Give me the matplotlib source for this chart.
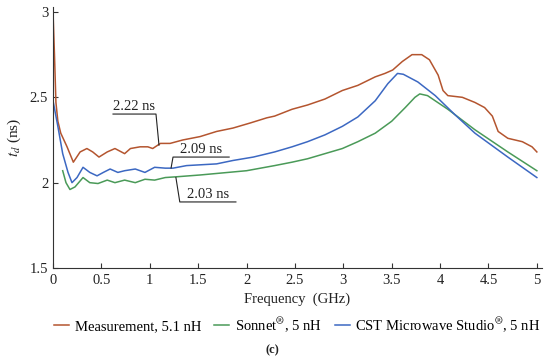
import numpy as np
import matplotlib
matplotlib.use("Agg")
import matplotlib.pyplot as plt

plt.rcParams['font.family'] = ['Liberation Serif', 'DejaVu Serif']
plt.rcParams['mathtext.fontset'] = 'stix'

# Measurement, 5.1 nH
meas_f = [0.00, 0.015, 0.03, 0.05, 0.08, 0.145, 0.21, 0.28, 0.35, 0.41, 0.475,
          0.56, 0.64, 0.74, 0.80, 0.90, 0.98, 1.03, 1.11, 1.21, 1.34, 1.52,
          1.69, 1.86, 2.04, 2.21, 2.29, 2.47, 2.63, 2.81, 2.99, 3.15, 3.33,
          3.43, 3.51, 3.61, 3.71, 3.81, 3.89, 3.98, 4.03, 4.08, 4.23, 4.36,
          4.46, 4.54, 4.60, 4.70, 4.85, 4.95, 5.00]
meas_t = [3.00, 2.75, 2.47, 2.36, 2.29, 2.21, 2.12, 2.18, 2.20, 2.18, 2.15,
          2.18, 2.20, 2.17, 2.20, 2.21, 2.21, 2.20, 2.23, 2.23, 2.25, 2.27,
          2.30, 2.32, 2.35, 2.38, 2.39, 2.43, 2.455, 2.49, 2.54, 2.57, 2.62,
          2.64, 2.66, 2.71, 2.75, 2.75, 2.72, 2.63, 2.54, 2.51, 2.50, 2.47,
          2.44, 2.39, 2.30, 2.26, 2.24, 2.21, 2.18]

# Sonnet, 5 nH
son_f = [0.10, 0.134, 0.175, 0.227, 0.31, 0.38, 0.465, 0.56, 0.64, 0.74,
         0.85, 0.95, 1.05, 1.16, 1.29, 1.52, 2.00, 2.29, 2.47, 2.63, 2.81,
         2.99, 3.15, 3.33, 3.50, 3.64, 3.74, 3.79, 3.87, 4.08, 4.36, 4.70, 5.00]
son_t = [2.07, 2.00, 1.96, 1.975, 2.03, 2.00, 1.995, 2.015, 2.00, 2.015,
         2.00, 2.02, 2.015, 2.03, 2.035, 2.045, 2.07, 2.10, 2.12, 2.14, 2.17,
         2.20, 2.24, 2.29, 2.36, 2.44, 2.50, 2.52, 2.51, 2.43, 2.31, 2.18, 2.07]

# CST Microwave Studio, 5 nH
cst_f = [0.00, 0.05, 0.10, 0.155, 0.196, 0.248, 0.31, 0.38, 0.455, 0.52,
         0.59, 0.67, 0.74, 0.85, 0.95, 1.05, 1.16, 1.24, 1.38, 1.69, 1.86,
         2.07, 2.29, 2.47, 2.63, 2.81, 2.99, 3.15, 3.33, 3.46, 3.56, 3.62,
         3.77, 3.95, 4.15, 4.36, 4.70, 5.00]
cst_t = [2.48, 2.33, 2.17, 2.06, 2.00, 2.03, 2.09, 2.06, 2.04, 2.06,
         2.08, 2.06, 2.07, 2.08, 2.06, 2.09, 2.085, 2.085, 2.10, 2.11, 2.13,
         2.15, 2.18, 2.21, 2.24, 2.28, 2.33, 2.385, 2.48, 2.58, 2.64, 2.635,
         2.59, 2.51, 2.40, 2.29, 2.15, 2.03]

x_ticks = [0, 0.5, 1, 1.5, 2, 2.5, 3, 3.5, 4, 4.5, 5]
x_labels = ['0', '0.5', '1', '1.5', '2', '2.5', '3', '3.5', '4', '4.5', '5']
y_ticks = [1.5, 2, 2.5, 3]
y_labels = ['1.5', '2', '2.5', '3']

# annotations: text, point on curve, underline start, underline end
notes = [("2.22 ns", (1.095, 2.22), (1.064, 2.402), (0.62, 2.402)),
         ("2.09 ns", (1.22, 2.086), (1.24, 2.15), (1.82, 2.15)),
         ("2.03 ns", (1.27, 2.03), (1.31, 1.887), (1.89, 1.887))]

c_meas = '#b4552f'
c_son = '#4a9a58'
c_cst = '#3c68c2'
reg = r'$^{\circledR}$'

fig = plt.figure(figsize=(5.5, 3.61), dpi=100)
ax = fig.add_axes([0.0964, 0.2576, 0.8885, 0.7234])

l1, = ax.plot(meas_f, meas_t, color=c_meas, lw=1.1, label='Measurement, 5.1 nH')
l2, = ax.plot(son_f, son_t, color=c_son, lw=1.1, label='Sonnet' + reg + ', 5 nH')
l3, = ax.plot(cst_f, cst_t, color=c_cst, lw=1.1,
              label='CST Microwave Studio' + reg + ', 5 nH')

for txt, p, a, b in notes:
    ax.plot([p[0], a[0], b[0]], [p[1], a[1], b[1]], color='#222222', lw=0.8)
    ax.text((a[0] + b[0]) / 2, a[1] + 0.008, txt, ha='center', va='bottom',
            fontsize=10.5, color='#222222')

ax.set_xlim(0, 5.05)
ax.set_ylim(1.5, 3.03)
ax.set_xticks(x_ticks)
ax.set_xticklabels(x_labels)
ax.set_yticks(y_ticks)
ax.set_yticklabels(y_labels)
ax.tick_params(direction='in', length=3.5, width=0.8, labelsize=10.5,
               colors='#333333', labelcolor='#222222')
ax.tick_params(axis='x', pad=4)
for s in ['top', 'right']:
    ax.spines[s].set_visible(False)
for s in ['left', 'bottom']:
    ax.spines[s].set_color('#333333')
    ax.spines[s].set_linewidth(0.8)

ax.set_xlabel('Frequency  (GHz)', fontsize=10.5, labelpad=4, color='#222222')
ax.set_ylabel(r'$t_d$ (ns)', fontsize=11, labelpad=5, color='#222222')

fig.legend(handles=[l1, l2, l3], loc='center', bbox_to_anchor=(0.541, 0.1),
           ncol=3, frameon=False, fontsize=10.5, handlelength=1.0,
           handletextpad=0.4, columnspacing=0.9)
fig.text(0.495, 0.03, '(c)', ha='center', va='center', fontsize=9,
         fontweight='bold', color='#222222')

fig.savefig('out.png', dpi=100)
